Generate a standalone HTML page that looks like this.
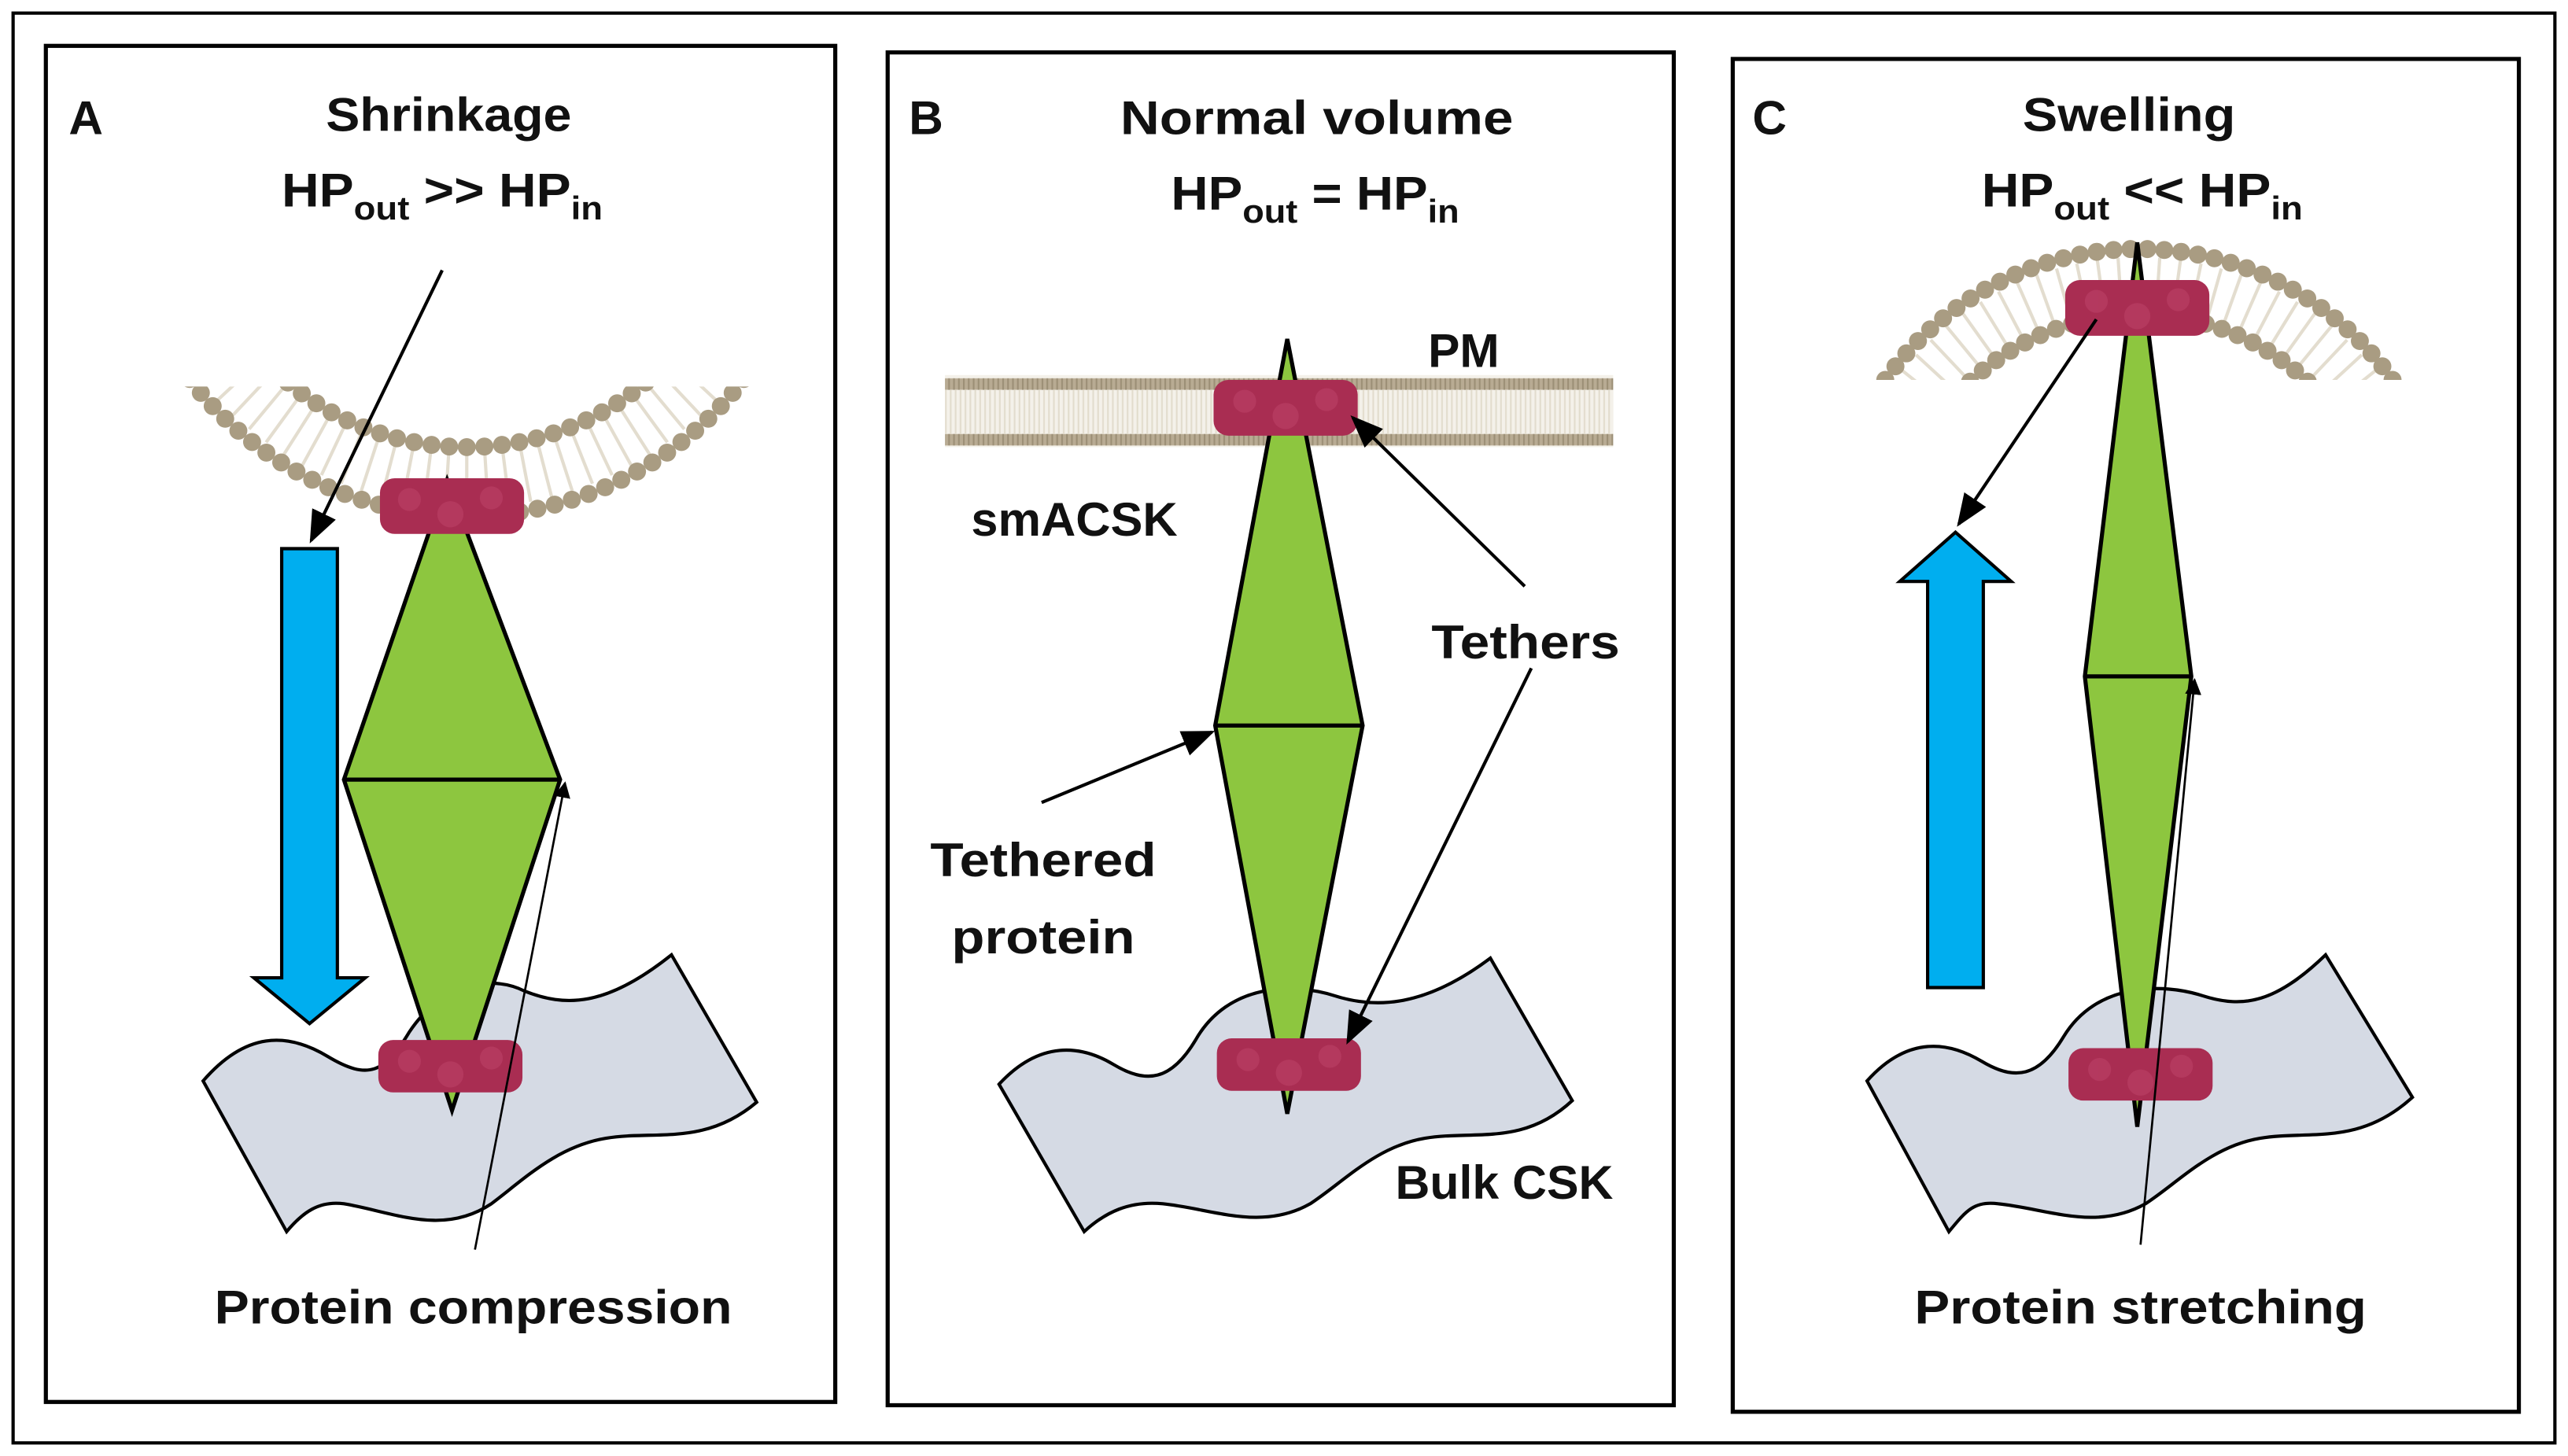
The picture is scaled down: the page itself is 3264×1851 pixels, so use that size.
<!DOCTYPE html>
<html><head><meta charset="utf-8">
<style>
html,body{margin:0;padding:0;background:#fff;}
svg{display:block;}
text{font-family:"Liberation Sans",sans-serif;font-weight:bold;fill:#111;}
</style></head>
<body>
<svg id="s" width="3264" height="1851" viewBox="0 0 1568 889" preserveAspectRatio="none" xmlns="http://www.w3.org/2000/svg">
<defs>
<marker id="ah" markerWidth="10" markerHeight="10" refX="9" refY="5" orient="auto" markerUnits="userSpaceOnUse" viewBox="0 0 10 10">
<path d="M0,0 L10,5 L0,10 z" fill="#000"/></marker>
<marker id="ah2" markerWidth="20" markerHeight="16" refX="18" refY="8" orient="auto" markerUnits="userSpaceOnUse" viewBox="0 0 20 16">
<path d="M0,0 L20,8 L0,16 z" fill="#000"/></marker>
<pattern id="bl" x="0" y="229" width="3" height="44" patternUnits="userSpaceOnUse">
<rect width="3" height="44" fill="#f4f1ea"/>
<rect x="0" y="2" width="3" height="7" fill="#b8ab93"/>
<rect x="0" y="36" width="3" height="7" fill="#b8ab93"/>
<rect x="0" y="2" width="1" height="7" fill="#9c8f76"/>
<rect x="0" y="36" width="1" height="7" fill="#9c8f76"/>
<rect x="1" y="9" width="1" height="27" fill="#e2dccd"/>
</pattern>
<clipPath id="cA"><rect x="100" y="236" width="380" height="120"/></clipPath>
<clipPath id="cC"><rect x="1130" y="120" width="360" height="112"/></clipPath>
</defs>
<rect x="8" y="8" width="1552" height="873" fill="#fff" stroke="#000" stroke-width="2"/>
<rect x="28" y="28" width="482" height="828" fill="#fff" stroke="#000" stroke-width="2.5"/>
<rect x="542" y="32" width="480" height="826" fill="#fff" stroke="#000" stroke-width="2.5"/>
<rect x="1058" y="36" width="480" height="826" fill="#fff" stroke="#000" stroke-width="2.5"/>

<path d="M124,660 C150,630 175,630 200,645 C225,660 235,655 250,630 C270,600 300,595 320,605 C345,615 370,615 410,583 L462,673 C430,700 400,690 370,695 C340,700 320,720 300,735 C270,755 240,740 210,735 C195,733 185,740 175,752 Z" fill="#d5dae4" stroke="#000" stroke-width="2"/>
<path d="M610,662 C635,635 660,638 680,650 C700,662 715,660 730,635 C750,600 790,600 815,608 C840,616 870,615 910,585 L960,672 C930,700 900,690 870,695 C840,700 820,722 800,735 C770,752 740,738 710,735 C690,733 675,740 662,752 Z" fill="#d5dae4" stroke="#000" stroke-width="2"/>
<path d="M1140,660 C1165,632 1190,636 1210,648 C1230,660 1245,658 1260,633 C1280,600 1320,600 1345,608 C1370,616 1390,612 1420,583 L1473,670 C1440,700 1410,690 1380,695 C1350,700 1330,722 1310,735 C1280,752 1250,738 1220,735 C1205,733 1200,740 1190,752 Z" fill="#d5dae4" stroke="#000" stroke-width="2"/>

<g id="memA" clip-path="url(#cA)"></g><g id="memC" clip-path="url(#cC)"></g>
<rect x="577" y="229" width="408" height="44" fill="url(#bl)"/>

<polygon points="273,293 342,476 276,678 210,476" fill="#8dc63f" stroke="#000" stroke-width="2.5"/>
<line x1="210" y1="476" x2="342" y2="476" stroke="#000" stroke-width="2.5"/>
<polygon points="786,207 832,443 786,680 742,443" fill="#8dc63f" stroke="#000" stroke-width="2.5"/>
<line x1="742" y1="443" x2="832" y2="443" stroke="#000" stroke-width="2.5"/>
<polygon points="1305,148 1338,413 1305,688 1273,413" fill="#8dc63f" stroke="#000" stroke-width="2.5"/>
<line x1="1273" y1="413" x2="1338" y2="413" stroke="#000" stroke-width="2.5"/>

<g fill="#a92d52">
<rect x="232" y="292" width="88" height="34" rx="9"/>
<rect x="231" y="635" width="88" height="32" rx="9"/>
<rect x="741" y="232" width="88" height="34" rx="9"/>
<rect x="743" y="634" width="88" height="32" rx="9"/>
<rect x="1261" y="171" width="88" height="34" rx="9"/>
<rect x="1263" y="640" width="88" height="32" rx="9"/>
</g>
<g fill="#c0456b" opacity="0.5">
<circle cx="250" cy="305" r="7"/><circle cx="275" cy="314" r="8"/><circle cx="300" cy="304" r="7"/>
<circle cx="250" cy="648" r="7"/><circle cx="275" cy="656" r="8"/><circle cx="300" cy="646" r="7"/>
<circle cx="760" cy="245" r="7"/><circle cx="785" cy="254" r="8"/><circle cx="810" cy="244" r="7"/>
<circle cx="762" cy="647" r="7"/><circle cx="787" cy="655" r="8"/><circle cx="812" cy="645" r="7"/>
<circle cx="1280" cy="184" r="7"/><circle cx="1305" cy="193" r="8"/><circle cx="1330" cy="183" r="7"/>
<circle cx="1282" cy="653" r="7"/><circle cx="1307" cy="661" r="8"/><circle cx="1332" cy="651" r="7"/>
</g>

<path d="M172,335 L206,335 L206,597 L223,597 L189,625 L155,597 L172,597 Z" fill="#00aeef" stroke="#000" stroke-width="2"/>
<path d="M1177,603 L1211,603 L1211,355 L1228,355 L1194,325 L1160,355 L1177,355 Z" fill="#00aeef" stroke="#000" stroke-width="2"/>

<g stroke="#000" fill="none">
<line x1="270" y1="165" x2="190" y2="330" stroke-width="2" marker-end="url(#ah2)"/>
<line x1="290" y1="763" x2="345" y2="478" stroke-width="1.3" marker-end="url(#ah)"/>
<line x1="931" y1="358" x2="826" y2="255" stroke-width="2" marker-end="url(#ah2)"/>
<line x1="935" y1="408" x2="823" y2="636" stroke-width="2" marker-end="url(#ah2)"/>
<line x1="636" y1="490" x2="740" y2="447" stroke-width="2" marker-end="url(#ah2)"/>
<line x1="1280" y1="195" x2="1196" y2="320" stroke-width="2" marker-end="url(#ah2)"/>
<line x1="1307" y1="760" x2="1340" y2="415" stroke-width="1.3" marker-end="url(#ah)"/>
</g>

<g font-size="29">
<text x="42" y="82">A</text>
<text x="274" y="80" text-anchor="middle" textLength="150" lengthAdjust="spacingAndGlyphs">Shrinkage</text>
<text x="172" y="126" textLength="196" lengthAdjust="spacingAndGlyphs">HP<tspan font-size="20" dy="8">out</tspan><tspan dy="-8"> &gt;&gt; HP</tspan><tspan font-size="20" dy="8">in</tspan></text>
<text x="289" y="808" text-anchor="middle" textLength="316" lengthAdjust="spacingAndGlyphs">Protein compression</text>

<text x="555" y="82">B</text>
<text x="804" y="82" text-anchor="middle" textLength="240" lengthAdjust="spacingAndGlyphs">Normal volume</text>
<text x="715" y="128" textLength="176" lengthAdjust="spacingAndGlyphs">HP<tspan font-size="20" dy="8">out</tspan><tspan dy="-8"> = HP</tspan><tspan font-size="20" dy="8">in</tspan></text>
<text x="872" y="224">PM</text>
<text x="593" y="327" textLength="126" lengthAdjust="spacingAndGlyphs">smACSK</text>
<text x="874" y="402" textLength="115" lengthAdjust="spacingAndGlyphs">Tethers</text>
<text x="637" y="535" text-anchor="middle" textLength="138" lengthAdjust="spacingAndGlyphs">Tethered</text>
<text x="637" y="582" text-anchor="middle" textLength="112" lengthAdjust="spacingAndGlyphs">protein</text>
<text x="852" y="732" textLength="133" lengthAdjust="spacingAndGlyphs">Bulk CSK</text>

<text x="1070" y="82">C</text>
<text x="1300" y="80" text-anchor="middle" textLength="130" lengthAdjust="spacingAndGlyphs">Swelling</text>
<text x="1210" y="126" textLength="196" lengthAdjust="spacingAndGlyphs">HP<tspan font-size="20" dy="8">out</tspan><tspan dy="-8"> &lt;&lt; HP</tspan><tspan font-size="20" dy="8">in</tspan></text>
<text x="1307" y="808" text-anchor="middle" textLength="276" lengthAdjust="spacingAndGlyphs">Protein stretching</text>
</g>
<script>
(function(){
var NS="http://www.w3.org/2000/svg";
function el(p,t,a){var e=document.createElementNS(NS,t);for(var k in a)e.setAttribute(k,a[k]);p.appendChild(e);return e;}
function mem(g,cx,cy,Ro,Ri,a0,a1,n){
  for(var i=0;i<=n;i++){
    var a=a0+(a1-a0)*i/n;
    var c=Math.cos(a),s=Math.sin(a);
    el(g,"line",{x1:cx+(Ro-5)*c,y1:cy+(Ro-5)*s,x2:cx+(Ri+5)*c,y2:cy+(Ri+5)*s,stroke:"#e3ddcf","stroke-width":"2"});
  }
  var m=Math.round(n*Ro/Ri);
  for(var i=0;i<=m;i++){var a=a0+(a1-a0)*i/m;el(g,"circle",{cx:cx+Ro*Math.cos(a),cy:cy+Ro*Math.sin(a),r:"5.5",fill:"#a99c82"});}
  for(var i=0;i<=n;i++){var a=a0+(a1-a0)*i/n;el(g,"circle",{cx:cx+Ri*Math.cos(a),cy:cy+Ri*Math.sin(a),r:"5.5",fill:"#a99c82"});}
}
mem(document.getElementById("memA"),285,102,213,171,0.5,Math.PI-0.5,34);
mem(document.getElementById("memC"),1306,342,190,150,Math.PI+0.4,2*Math.PI-0.4,34);
})();
</script>
</svg>
</body></html>
